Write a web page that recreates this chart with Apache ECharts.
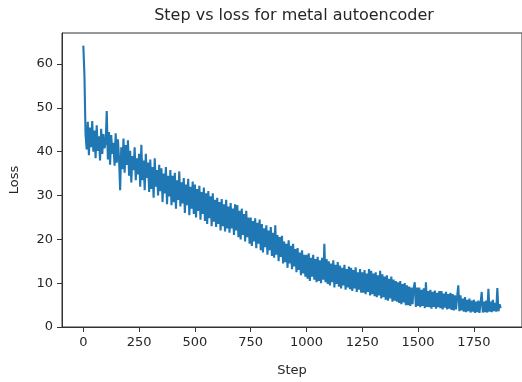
<!DOCTYPE html>
<html>
<head>
<meta charset="utf-8">
<script src="https://cdn.jsdelivr.net/npm/echarts@6/dist/echarts.min.js"></script>
<style>
html,body{margin:0;padding:0;background:#fff;}
#chart{width:522px;height:382px;}
</style>
</head>
<body>
<div id="chart"></div>
<script>
// Step spacing of the sampled readings
var stepSpacing = 5;
// Loss readings, steps 0-495
var lossA = [64.2, 57.5, 44.0, 40.5, 46.8, 39.2, 45.5, 41.0, 47.0, 40.0,
             44.8, 38.5, 46.0, 40.2, 43.5, 38.0, 45.2, 39.5, 44.0, 40.8,
             42.0, 49.3, 38.2, 44.5, 37.0, 43.8, 39.5, 42.0, 36.8, 44.2,
             37.5, 42.8, 38.5, 31.2, 41.0, 36.0, 43.0, 35.2, 41.5, 37.0,
             42.6, 34.5, 40.2, 33.0, 39.0, 35.8, 41.0, 33.5, 38.5, 34.8,
             39.5, 32.0, 41.6, 33.5, 38.0, 31.2, 39.5, 34.0, 37.5, 30.8,
             38.2, 31.5, 36.5, 29.5, 38.5, 32.0, 35.8, 30.0, 37.0, 31.0,
             36.2, 28.5, 35.0, 30.5, 36.5, 28.0, 34.5, 29.8, 35.8, 27.8,
             34.5, 28.5, 35.2, 27.0, 33.5, 29.0, 35.5, 27.5, 33.0, 28.2,
             34.0, 26.0, 32.5, 27.8, 33.8, 25.5, 32.0, 27.0, 33.2, 25.8];
// steps 500-995
var lossB = [32.5, 25.0, 31.5, 26.5, 32.2, 24.5, 30.8, 25.8, 31.8, 24.2,
             30.5, 23.5, 31.0, 24.8, 29.8, 23.0, 30.5, 24.0, 29.0, 22.8,
             29.5, 23.5, 28.5, 22.0, 29.2, 23.0, 28.0, 21.8, 29.0, 22.5,
             27.5, 21.5, 28.3, 22.5, 27.0, 21.0, 28.0, 22.0, 27.8, 20.5,
             26.5, 20.0, 27.0, 21.0, 25.8, 19.5, 26.5, 20.5, 25.0, 19.0,
             25.0, 18.5, 24.2, 19.5, 24.8, 18.0, 23.8, 19.0, 24.5, 17.5,
             23.5, 17.0, 22.5, 18.2, 23.2, 16.5, 22.0, 17.5, 22.8, 16.2,
             21.5, 15.8, 23.2, 16.5, 21.0, 15.0, 20.5, 16.0, 20.8, 14.5,
             19.5, 14.8, 19.0, 13.5, 19.8, 14.5, 18.5, 13.2, 19.0, 13.8,
             17.8, 12.5, 18.0, 13.0, 17.0, 11.8, 17.5, 12.2, 16.5, 11.5];
// steps 1000-1495
var lossC = [16.5, 11.0, 16.8, 10.5, 15.8, 11.5, 16.5, 10.8, 15.5, 10.2,
             16.0, 10.5, 15.2, 10.0, 15.8, 10.8, 19.0, 10.2, 15.5, 9.8,
             15.0, 9.5, 14.5, 10.2, 15.2, 9.0, 14.2, 9.8, 14.8, 9.2,
             14.0, 8.8, 13.5, 9.5, 14.2, 8.5, 13.2, 9.0, 13.8, 8.6,
             13.5, 8.2, 13.0, 8.8, 13.6, 8.0, 12.5, 8.5, 13.2, 7.8,
             12.5, 7.8, 13.0, 7.5, 12.2, 8.0, 13.2, 7.2, 12.8, 7.5,
             12.2, 7.0, 12.5, 6.8, 11.8, 7.2, 12.8, 6.5, 12.0, 6.8,
             11.5, 6.2, 11.8, 6.0, 11.0, 6.5, 11.5, 5.8, 10.8, 6.0,
             10.5, 5.8, 10.2, 5.5, 10.5, 5.2, 9.8, 5.6, 10.0, 5.0,
             9.5, 5.0, 9.2, 4.8, 9.0, 5.2, 8.8, 10.2, 4.6, 9.0];
// steps 1500-1870
var lossD = [4.8, 9.0, 4.5, 8.5, 4.8, 8.8, 4.3, 10.2, 4.6, 8.2,
             4.5, 8.5, 4.2, 8.0, 4.6, 8.3, 4.2, 7.8, 4.5, 8.2,
             4.3, 8.2, 4.0, 7.6, 4.4, 8.0, 4.0, 7.5, 4.2, 7.8,
             3.9, 7.5, 3.8, 7.2, 4.0, 7.0, 9.5, 3.6, 7.2, 3.8,
             6.5, 3.5, 6.8, 3.4, 6.2, 3.6, 6.5, 3.3, 6.0, 3.5,
             6.2, 3.2, 5.8, 3.4, 6.0, 3.2, 5.5, 8.0, 3.3, 5.8,
             3.4, 6.0, 3.3, 8.7, 3.5, 5.8, 3.4, 6.2, 3.6, 5.5,
             3.5, 8.9, 3.6, 5.2, 4.3];

var xTicks = [0, 250, 500, 750, 1000, 1250, 1500, 1750];
var yTicks = [0, 10, 20, 30, 40, 50, 60];

var lossValues = lossA.concat(lossB, lossC, lossD);
var seriesData = lossValues.map(function (v, i) { return [i * stepSpacing, v]; });

var font = 'DejaVu Sans';
var ink = '#262626';
var plain = function (v) { return String(v); };
var chart = echarts.init(document.getElementById('chart'), null, {renderer: 'canvas'});
chart.setOption({
  animation: false,
  backgroundColor: '#fff',
  title: {
    text: 'Step vs loss for metal autoencoder',
    left: 289, top: 3, textAlign: 'center',
    textStyle: {fontFamily: font, fontSize: 16, fontWeight: 'normal', color: ink}
  },
  grid: {
    left: 56, top: 33, width: 466, height: 303,
    show: true, borderColor: '#333', borderWidth: 1, backgroundColor: 'transparent'
  },
  xAxis: {
    type: 'value', min: -95.5, max: 1965.5,
    name: 'Step', nameLocation: 'middle', nameGap: 37,
    nameTextStyle: {fontFamily: font, fontSize: 13, color: ink},
    splitLine: {show: false},
    axisLine: {show: true, onZero: false, lineStyle: {color: '#333', width: 1}},
    axisTick: {show: true, length: 5, lineStyle: {color: '#333'}, customValues: xTicks},
    axisLabel: {fontFamily: font, fontSize: 13, color: ink, margin: 9, customValues: xTicks, formatter: plain}
  },
  yAxis: {
    type: 'value', min: 0, max: 67.08,
    name: 'Loss', nameLocation: 'middle', nameGap: 41,
    nameTextStyle: {fontFamily: font, fontSize: 13, color: ink},
    splitLine: {show: false},
    axisLine: {show: true, onZero: false, lineStyle: {color: '#333', width: 1}},
    axisTick: {show: true, length: 5, lineStyle: {color: '#333'}, customValues: yTicks},
    axisLabel: {fontFamily: font, fontSize: 13, color: ink, margin: 9, customValues: yTicks, formatter: plain}
  },
  series: [{
    type: 'line',
    data: seriesData,
    showSymbol: false,
    symbol: 'none',
    sampling: null,
    lineStyle: {color: '#1f77b4', width: 2.1},
    itemStyle: {color: '#1f77b4'}
  }]
});
</script>
</body>
</html>
